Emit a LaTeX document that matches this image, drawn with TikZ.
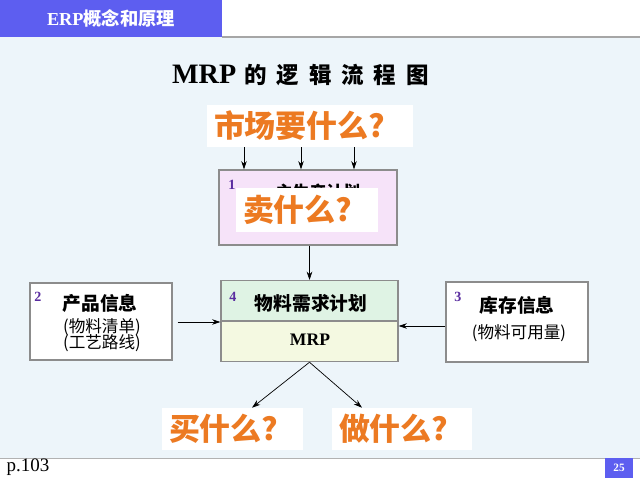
\documentclass[tikz,border=0pt]{standalone}
\usepackage{fontspec}
\setmainfont{Liberation Serif}
\newfontfamily\cjk{Noto Sans CJK SC}
\usetikzlibrary{arrows.meta}
\definecolor{HdrBlue}{HTML}{5D5EF0}
\definecolor{BgBlue}{HTML}{EDF5FA}
\definecolor{QOrange}{HTML}{EC7A22}
\definecolor{PlanPink}{HTML}{F6E3F9}
\definecolor{MrpGreen}{HTML}{DFF3E4}
\definecolor{MrpYellow}{HTML}{F4F9E1}
\definecolor{BoxGray}{HTML}{8C8C8C}
\definecolor{NumPurple}{HTML}{5A2DA0}
\newcommand{\tgap}{\hspace{7pt}}

\begin{document}
\begin{tikzpicture}[x=0.025cm, y=0.025cm,
  box/.style={draw=BoxGray, line width=0.8pt, inner sep=0pt},
  question/.style={fill=white, text=QOrange, font=\cjk\bfseries\fontsize{22}{22}\selectfont,
    inner ysep=0pt, inner xsep=7*0.025cm, align=left, text width=#1*0.025cm},
  num/.style={text=NumPurple, font=\bfseries\fontsize{10}{10}\selectfont},
  boxtitle/.style={font=\cjk\bfseries\fontsize{13.3}{13.3}\selectfont},
  boxsub/.style={font=\cjk\fontsize{11.8}{11.8}\selectfont, align=center},
  arr/.style={-{Stealth[length=6pt,width=4pt]}, line width=0.5pt}]
  \useasboundingbox (0,0) rectangle (640,480);
  % background and slide frame
  \fill[BgBlue] (0,22) rectangle (640,443);
  \fill[HdrBlue] (0,443) rectangle (222,480);
  \draw[gray!70, line width=1pt] (222,443) -- (640,443);
  \draw[gray!60, line width=0.6pt] (0,22) -- (640,22);
  \node[text=white, font=\bfseries\fontsize{13}{13}\selectfont] (hdr) at (111,462) {ERP{\cjk\bfseries 概念和原理}};
  \node[font=\fontsize{13.5}{13.5}\selectfont] (pg) at (28,13) {p.103};
  \node[fill=HdrBlue, text=white, font=\bfseries\fontsize{8}{8}\selectfont, minimum width=28*0.025cm, minimum height=20*0.025cm, inner sep=0pt] (pnum) at (619,12) {25};

  % title
  \node[font=\bfseries\fontsize{20}{20}\selectfont] (title) at (300.5,405)
    {MRP\hspace{6pt}{\cjk\bfseries\fontsize{16}{16}\selectfont 的\tgap 逻\tgap 辑\tgap 流\tgap 程\tgap 图}};

  % market demand
  \node[question=192, minimum height=42*0.025cm] (mkt) at (310,354) {市场要什么?};

  % box 1
  \node[box, fill=PlanPink, minimum width=178*0.025cm, minimum height=75*0.025cm] (plan) at (308,272.5) {};
  \node[num] (n1) at (232,295) {1};
  \node[font=\cjk\bfseries\fontsize{12}{12}\selectfont] (plantxt) at (318,288) {主生产计划};
  \node[question=128, minimum height=44*0.025cm] (sell) at (307,270) {卖什么?};
  \foreach \x in {244,301,354}
    \draw[arr] (\x,0 |- mkt.south) -- (\x,0 |- plan.north);

  % box 4 (MRP)
  \node[box, fill=MrpGreen, minimum width=177*0.025cm, minimum height=40*0.025cm, anchor=north] (mrptop) at (309.5,200) {};
  \node[box, fill=MrpYellow, minimum width=177*0.025cm, minimum height=40*0.025cm, anchor=north] (mrp) at (mrptop.south) {};
  \node[num] (n4) at (233,183) {4};
  \node[boxtitle] (mrptxt) at (311,177) {物料需求计划};
  \node[font=\bfseries\fontsize{12.5}{12.5}\selectfont] (mrplbl) at (310,140) {MRP};
  \draw[arr] (mrptop.north |- plan.south) -- (mrptop.north);

  % box 2
  \node[box, fill=white, minimum width=142*0.025cm, minimum height=77*0.025cm] (prod) at (101,158.5) {};
  \node[num] (n2) at (38,183) {2};
  \node[boxtitle] (prodtxt) at (100,177) {产品信息};
  \node[boxsub] (prodsub) at (102,144.5) {(物料清单)\\[-2pt](工艺路线)};
  \draw[arr, shorten <=5*0.025cm] (prod.east |- 0,158) -- (mrptop.west |- 0,158);

  % box 3
  \node[box, fill=white, minimum width=142*0.025cm, minimum height=80*0.025cm] (stock) at (517,158) {};
  \node[num] (n3) at (458,183) {3};
  \node[boxtitle] (stocktxt) at (517,175) {库存信息};
  \node[boxsub] (stocksub) at (519,147) {(物料可用量)};
  \draw[arr] (stock.west |- 0,154) -- (mrp.east |- 0,154);

  % outputs
  \node[question=127, minimum height=42*0.025cm] (buy) at (232.5,51) {买什么?};
  \node[question=126, minimum height=42*0.025cm] (make) at (402,51) {做什么?};
  \draw[arr] (mrp.south) -- ([xshift=19.5*0.025cm]buy.north);
  \draw[arr] (mrp.south) -- ([xshift=-40*0.025cm]make.north);
\end{tikzpicture}
\end{document}
